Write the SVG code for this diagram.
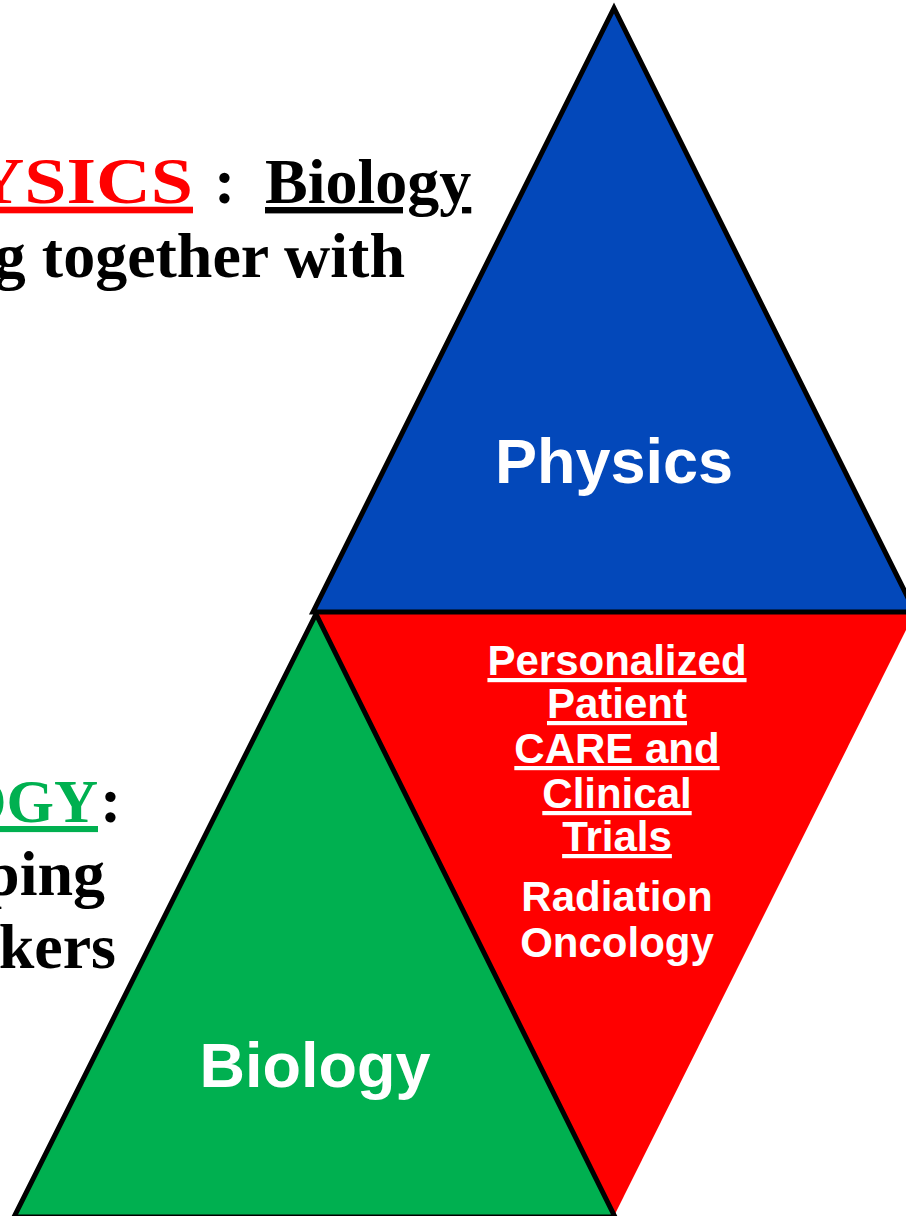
<svg xmlns="http://www.w3.org/2000/svg" width="906" height="1216" viewBox="0 0 906 1216">
  <style>
    .serif { font-family: "Liberation Serif", "Times New Roman", serif; font-weight: bold; font-size: 64px; fill: #000; }
    .u { text-decoration: underline; }
    .label { font-family: "Liberation Sans", Arial, sans-serif; font-weight: bold; fill: #fff; text-anchor: middle; }
    .big { font-size: 63px; }
    .small { font-size: 42px; }
    .edge { stroke: #000; stroke-width: 5; stroke-linejoin: miter; }
  </style>
  <rect width="906" height="1216" fill="#fff"/>

  <!-- headline text on the left -->
  <g id="heading">
    <text class="serif u" transform="translate(193,203) scale(1.15,1)" text-anchor="end" style="fill:#ff0000;font-size:66px">YSICS</text>
    <text class="serif" x="214" y="203">:</text>
    <text class="serif u" x="265" y="203">Biology</text>
    <text class="serif" x="405" y="277" text-anchor="end">g together with</text>
    <text class="serif" x="4" y="366" text-anchor="end">:</text>
  </g>
  <g id="biology-text">
    <text class="serif u" x="98" y="822" text-anchor="end" style="fill:#00b050;font-size:61px">OGY</text>
    <text class="serif" x="100" y="822">:</text>
    <text class="serif" x="105" y="895" text-anchor="end">ping</text>
    <text class="serif" x="116" y="968" text-anchor="end">kers</text>
  </g>

  <!-- centre triangle: radiation oncology -->
  <g id="radiation-oncology">
    <polygon points="315,612 915,612 615,1214" fill="#ff0000"/>
    <text class="label small u" x="617" y="675">Personalized</text>
    <text class="label small u" x="617" y="718">Patient</text>
    <text class="label small u" x="617" y="763">CARE and</text>
    <text class="label small u" x="617" y="808">Clinical</text>
    <text class="label small u" x="617" y="851">Trials</text>
    <text class="label small" x="617" y="911">Radiation</text>
    <text class="label small" x="617" y="957">Oncology</text>
  </g>

  <!-- top triangle -->
  <g id="physics">
    <polygon class="edge" points="614,8 915,612 313,612" fill="#0348ba"/>
    <text class="label big" x="614" y="483">Physics</text>
  </g>

  <!-- bottom-left triangle -->
  <g id="biology">
    <polygon class="edge" points="316,614 615,1217 14,1217" fill="#00b050"/>
    <text class="label big" x="315" y="1087">Biology</text>
  </g>

  <g id="connectors"></g>
</svg>
